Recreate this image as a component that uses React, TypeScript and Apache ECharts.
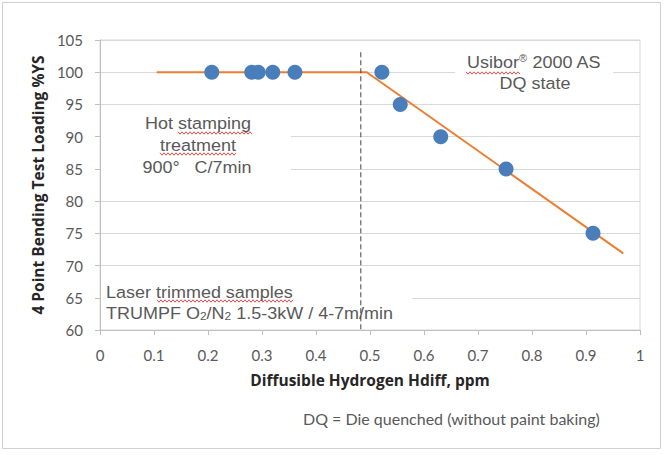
import React, { useEffect, useRef } from "react";
import * as echarts from "echarts";

const hydrogen = [0.207, 0.281, 0.293, 0.32, 0.361, 0.522, 0.556, 0.631, 0.752, 0.913];
const loading = [100, 100, 100, 100, 100, 100, 95, 90, 85, 75];
const trendX = [0.105, 0.494, 0.969];
const trendY = [100, 100, 71.9];
const dividerX = [0.483, 0.483];
const dividerY = [103.1, 60];
const xTicks = ["0", "0.1", "0.2", "0.3", "0.4", "0.5", "0.6", "0.7", "0.8", "0.9", "1"];

function wave(x0: number, x1: number, y: number): number[][] {
  const pts: number[][] = [];
  let up = true;
  for (let x = x0; x <= x1; x += 2) {
    pts.push([x, y + (up ? -1.2 : 1.2)]);
    up = !up;
  }
  return pts;
}

export default function App() {
  const ref = useRef<HTMLDivElement>(null);
  useEffect(() => {
    if (!ref.current) return;
    const chart = echarts.init(ref.current, null, { renderer: "svg" });
    const annoFont = "Liberation Sans, Arial, sans-serif";
    const annoColor = "#595959";
    const annoSize = 16.5;
    const txt = (x: number, y: number, text: string, align: string, extra: any = {}) => ({
      type: "text",
      x,
      y,
      scaleX: 1.09,
      z: 1,
      style: {
        text,
        fill: annoColor,
        font: `${annoSize}px ${annoFont}`,
        textAlign: align,
        textVerticalAlign: "middle",
        ...extra,
      },
    });
    const red = (x0: number, x1: number, y: number) => ({
      type: "polyline",
      z: 1,
      shape: { points: wave(x0, x1, y) },
      style: { stroke: "#e02020", lineWidth: 0.8, fill: null },
    });
    const titleStyle = { fontFamily: "Open Sans", fontWeight: "bold", fontSize: 15.5, color: "#262626" };
    chart.setOption({
      animation: false,
      backgroundColor: "#ffffff",
      grid: {
        left: 100,
        right: 29,
        top: 40,
        bottom: 125,
        show: true,
        borderColor: "#d9d9d9",
        borderWidth: 1,
      },
      xAxis: {
        type: "value",
        min: 0,
        max: 1,
        interval: 0.1,
        name: "Diffusible Hydrogen Hdiff, ppm",
        nameLocation: "middle",
        nameGap: 42,
        nameTextStyle: titleStyle,
        axisLine: { lineStyle: { color: "#bfbfbf" } },
        axisTick: { show: true, length: 5, lineStyle: { color: "#bfbfbf" } },
        splitLine: { show: false },
        axisLabel: {
          margin: 17,
          fontFamily: "Lato",
          fontSize: 15,
          color: "#595959",
          formatter: (v: number) => xTicks[Math.round(v * 10)] ?? String(v),
        },
      },
      yAxis: {
        type: "value",
        min: 60,
        max: 105,
        interval: 5,
        name: "4 Point Bending Test Loading %YS",
        nameLocation: "middle",
        nameGap: 51,
        nameTextStyle: titleStyle,
        axisLine: { show: true, lineStyle: { color: "#bfbfbf" } },
        axisTick: { show: true, length: 5, lineStyle: { color: "#bfbfbf" } },
        splitLine: { show: true, lineStyle: { color: "#d9d9d9" } },
        axisLabel: { margin: 17, fontFamily: "Lato", fontSize: 15, color: "#595959" },
      },
      graphic: [
        { type: "rect", z: 0, shape: { x: 2.5, y: 2.5, width: 658, height: 446 }, style: { fill: null, stroke: "#d0d0d0", lineWidth: 1 } },
        { type: "rect", z: 1, shape: { x: 101, y: 110, width: 190, height: 72 }, style: { fill: "#ffffff" } },
        { type: "rect", z: 1, shape: { x: 455, y: 48, width: 158, height: 48 }, style: { fill: "#ffffff" } },
        { type: "rect", z: 1, shape: { x: 101, y: 278, width: 311, height: 48 }, style: { fill: "#ffffff" } },
        txt(534, 62, "Usibor{sup|®} 2000 AS", "center", {
          rich: { sup: { fontSize: 10, fontFamily: annoFont, fill: annoColor, verticalAlign: "top" } },
        }),
        txt(535, 83, "DQ state", "center"),
        txt(198, 123, "Hot stamping", "center"),
        txt(198, 145, "treatment", "center"),
        txt(197, 167, "900°   C/7min", "center"),
        txt(106, 292, "Laser trimmed samples", "left"),
        txt(106, 313, "TRUMPF O{sub|2}/N{sub|2} 1.5-3kW / 4-7m/min", "left", {
          rich: { sub: { fontSize: 11, fontFamily: annoFont, fill: annoColor, verticalAlign: "bottom" } },
        }),
        red(466, 520, 73),
        red(178, 253, 133),
        red(160, 237, 154),
        red(157, 294, 301),
        {
          type: "text",
          x: 303,
          y: 418,
          style: {
            text: "DQ = Die quenched (without paint baking)",
            fill: "#595959",
            font: "16px Lato, sans-serif",
            textAlign: "left",
            textVerticalAlign: "middle",
          },
        },
      ],
      series: [
        {
          type: "line",
          z: 2,
          data: trendX.map((x, i) => [x, trendY[i]]),
          symbol: "none",
          lineStyle: { color: "#ed7d31", width: 2 },
        },
        {
          type: "line",
          z: 2,
          data: dividerX.map((x, i) => [x, dividerY[i]]),
          symbol: "none",
          lineStyle: { color: "#404040", width: 1, type: [5, 3] },
        },
        {
          type: "scatter",
          z: 3,
          data: hydrogen.map((x, i) => [x, loading[i]]),
          symbolSize: 15,
          itemStyle: { color: "#4a7ebb", opacity: 1 },
        },
      ],
    });
    return () => chart.dispose();
  }, []);
  return <div ref={ref} style={{ position: "absolute", left: 0, top: 0, width: 669, height: 455 }} />;
}
